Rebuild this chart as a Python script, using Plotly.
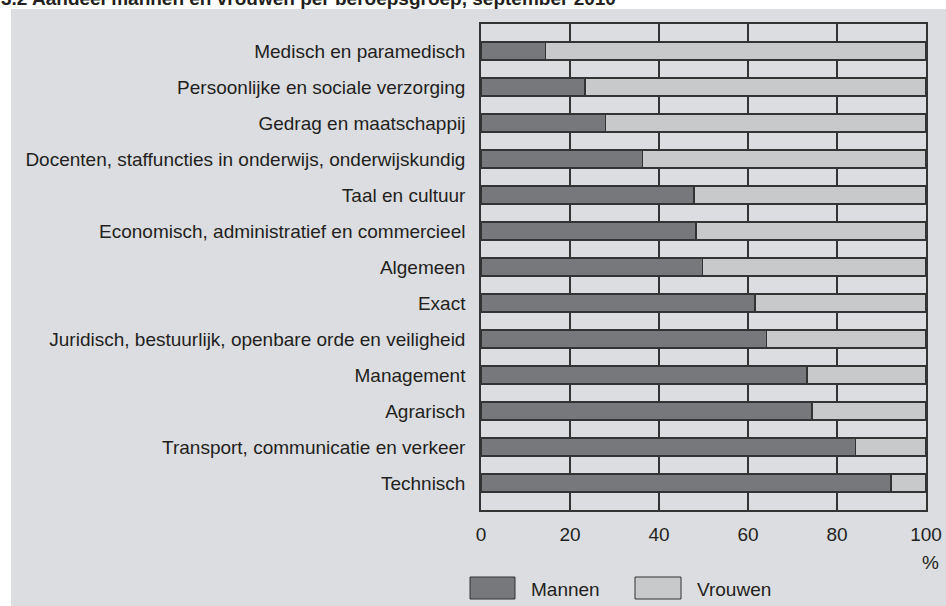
import plotly.graph_objects as go

categories = [
    "Medisch en paramedisch",
    "Persoonlijke en sociale verzorging",
    "Gedrag en maatschappij",
    "Docenten, staffuncties in onderwijs, onderwijskundig",
    "Taal en cultuur",
    "Economisch, administratief en commercieel",
    "Algemeen",
    "Exact",
    "Juridisch, bestuurlijk, openbare orde en veiligheid",
    "Management",
    "Agrarisch",
    "Transport, communicatie en verkeer",
    "Technisch",
]
mannen = [14.5, 23.4, 28.0, 36.3, 47.9, 48.3, 49.8, 61.6, 64.2, 73.3, 74.4, 84.2, 92.1]
vrouwen = [round(100 - m, 1) for m in mannen]
x_ticks = [0, 20, 40, 60, 80, 100]
title_text = "3.2 Aandeel mannen en vrouwen per beroepsgroep, september 2010"

W, H = 946, 606
ML, MR, MT, MB = 481, 20, 24, 96
PW, PH = W - ML - MR, H - MT - MB

def px(x):
    return (x - ML) / PW

def py(y):
    return 1 - (y - MT) / PH

FONT = "Liberation Sans, Arial, sans-serif"
FS = 19
TXT = "#231f20"
DARK = "#77787c"
LIGHT = "#c8c9cb"
EDGE = "#333333"

fig = go.Figure()
fig.add_trace(go.Bar(y=categories, x=mannen, orientation="h", name="Mannen",
                     marker=dict(color=DARK, line=dict(color=EDGE, width=1.5)), width=0.5))
fig.add_trace(go.Bar(y=categories, x=vrouwen, orientation="h", name="Vrouwen",
                     marker=dict(color=LIGHT, line=dict(color=EDGE, width=1.5)), width=0.5))

shapes = [
    dict(type="rect", xref="paper", yref="paper", x0=px(11), x1=px(947), y0=py(9), y1=py(607),
         fillcolor="#dcdde0", line=dict(width=0), layer="below"),
    dict(type="rect", xref="paper", yref="paper", x0=px(470), x1=px(515), y0=py(599), y1=py(577),
         fillcolor=DARK, line=dict(color=EDGE, width=1)),
    dict(type="rect", xref="paper", yref="paper", x0=px(635), x1=px(681), y0=py(599), y1=py(577),
         fillcolor=LIGHT, line=dict(color=EDGE, width=1)),
]
annotations = [
    dict(text="<b>" + title_text + "</b>", xref="paper", yref="paper", x=px(-1), y=py(11),
         xanchor="left", yanchor="bottom", showarrow=False,
         font=dict(size=19, color=TXT, family=FONT)),
    dict(text="%", xref="paper", yref="paper", x=px(941), y=py(562), xanchor="right", yanchor="middle",
         showarrow=False, font=dict(size=FS, color=TXT, family=FONT)),
    dict(text="Mannen", xref="paper", yref="paper", x=px(529), y=py(589), xanchor="left", yanchor="middle",
         showarrow=False, font=dict(size=FS, color=TXT, family=FONT)),
    dict(text="Vrouwen", xref="paper", yref="paper", x=px(695), y=py(589), xanchor="left", yanchor="middle",
         showarrow=False, font=dict(size=FS, color=TXT, family=FONT)),
]

fig.update_layout(
    width=W, height=H,
    margin=dict(l=ML, r=MR, t=MT, b=MB, pad=0, autoexpand=False),
    barmode="stack",
    bargap=0.5,
    showlegend=False,
    paper_bgcolor="white",
    plot_bgcolor="white",
    font=dict(family=FONT, size=FS, color=TXT),
    shapes=shapes,
    annotations=annotations,
    xaxis=dict(range=[0, 100], tickvals=x_ticks, ticktext=[str(t) for t in x_ticks],
               showgrid=True, gridcolor=EDGE, gridwidth=1.5, zeroline=False,
               showline=True, linecolor=EDGE, linewidth=1.5, mirror=True, automargin=False,
               ticks="", ticklabelstandoff=6, tickfont=dict(size=FS, color=TXT)),
    yaxis=dict(type="category", categoryorder="array", categoryarray=categories,
               range=[len(categories) - 0.25, -0.75], showgrid=False, zeroline=False,
               showline=True, linecolor=EDGE, linewidth=1.5, mirror=True, automargin=False,
               ticks="", ticklabelstandoff=10, tickfont=dict(size=FS, color=TXT)),
)

fig.write_html(
    "out.html",
    config={"displayModeBar": False},
    post_script="document.body.style.margin='0';document.body.style.overflow='hidden';",
)
